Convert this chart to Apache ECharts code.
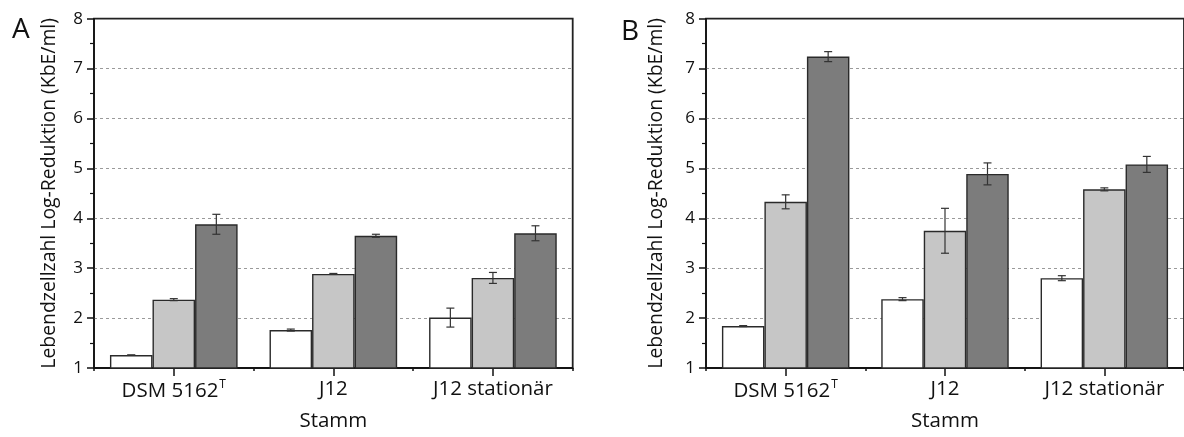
<!DOCTYPE html>
<html>
<head>
<meta charset="utf-8">
<script src="https://cdn.jsdelivr.net/npm/echarts@6/dist/echarts.min.js"></script>
<style>
  html, body { margin: 0; padding: 0; background: #fff; }
  #chart { width: 1184px; height: 437px; }
</style>
</head>
<body>
<div id="chart"></div>
<script>
// Strains on the x axis
const categories = ['DSM 5162', 'J12', 'J12 stationär'];

// Panel A: mean log reductions and standard deviations
const aWhite = [1.26, 1.76, 2.01];
const aLight = [2.37, 2.885, 2.805];
const aDark  = [3.88, 3.65, 3.70];
const aWhiteErr = [0.0, 0.02, 0.19];
const aLightErr = [0.02, 0.01, 0.11];
const aDarkErr  = [0.20, 0.03, 0.15];

// Panel B: mean log reductions and standard deviations
const bWhite = [1.84, 2.38, 2.80];
const bLight = [4.33, 3.75, 4.58];
const bDark  = [7.24, 4.89, 5.08];
const bWhiteErr = [0.01, 0.03, 0.05];
const bLightErr = [0.14, 0.45, 0.03];
const bDarkErr  = [0.10, 0.22, 0.16];

// y axis range and ticks
const yMin = 1, yMax = 8, yStep = 1;

const FONT = '"Open Sans", "Noto Sans", sans-serif';
const fills = ['#ffffff', '#c6c6c6', '#7c7c7c'];
const GAP = 0.2; // category gap fraction

const chart = echarts.init(document.getElementById('chart'), null, { renderer: 'canvas' });

function xAxesFor(gridIndex) {
  return [
    {
      type: 'category', gridIndex, data: categories, position: 'bottom',
      axisLine: { show: true, lineStyle: { color: '#111', width: 1.5 } },
      axisTick: { show: true, alignWithLabel: true, length: 8, lineStyle: { color: '#111', width: 1.5 } },
      axisLabel: {
        interval: 0, margin: 11, color: '#111', fontFamily: FONT, fontSize: 20.5,
        formatter: (v) => v === 'DSM 5162' ? '{a|DSM 5162}{s|T}' : '{a|' + v + '}',
        rich: {
          a: { fontFamily: FONT, fontSize: 20.5, color: '#111' },
          s: { fontFamily: FONT, fontSize: 12, color: '#111', verticalAlign: 'top', padding: [0, 0, 13, 1] }
        }
      },
      splitLine: { show: false },
      name: 'Stamm', nameLocation: 'middle', nameGap: 43,
      nameTextStyle: { fontFamily: FONT, fontSize: 20.5, color: '#111' }
    },
    {
      // short ticks on category boundaries
      type: 'category', gridIndex, data: categories, position: 'bottom',
      axisLine: { show: false },
      axisTick: { show: true, interval: 0, length: 3, lineStyle: { color: '#111', width: 1.5 } },
      axisLabel: { show: false }, splitLine: { show: false }
    }
  ];
}

function yAxisFor(gridIndex, nameGap) {
  return {
    type: 'value', gridIndex, min: yMin, max: yMax, interval: yStep,
    axisLine: { show: true, lineStyle: { color: '#111', width: 1.5 } },
    axisTick: { show: true, length: 7, lineStyle: { color: '#111', width: 1.5 } },
    minorTick: { show: true, splitNumber: 2, length: 4, lineStyle: { color: '#111', width: 1.2 } },
    axisLabel: { margin: 11, color: '#111', fontFamily: FONT, fontSize: 17 },
    splitLine: { show: true, showMinLine: false, showMaxLine: false, lineStyle: { color: '#9a9a9a', type: [3, 3], width: 1 } },
    name: 'Lebendzellzahl Log-Reduktion (KbE/ml)', nameLocation: 'middle', nameGap,
    nameTextStyle: { fontFamily: FONT, fontSize: 19.4, color: '#111' }
  };
}

function barSeries(xi, yi, values, k) {
  return {
    type: 'bar', xAxisIndex: xi, yAxisIndex: yi, data: values,
    barGap: '0%', barCategoryGap: (GAP * 100) + '%',
    itemStyle: { color: fills[k], borderColor: '#2a2a2a', borderWidth: 1.4 },
    silent: true, z: 2
  };
}

function errSeries(xi, yi, means, errs, k) {
  return {
    type: 'custom', xAxisIndex: xi, yAxisIndex: yi, z: 5, silent: true,
    data: means.map((m, i) => [i, m, errs[i]]),
    encode: { x: 0, y: 1 },
    renderItem: (params, api) => {
      const ci = api.value(0), m = api.value(1), e = api.value(2);
      const catW = api.size([1, 0])[0];
      const bw = catW * (1 - GAP) / 3;
      const off = (k - 1) * bw;
      const top = api.coord([ci, m + e]);
      const bot = api.coord([ci, m - e]);
      const cx = top[0] + off;
      const cap = 4;
      const st = { stroke: '#333', lineWidth: 1.2 };
      return {
        type: 'group',
        children: [
          { type: 'line', shape: { x1: cx, y1: top[1], x2: cx, y2: bot[1] }, style: st },
          { type: 'line', shape: { x1: cx - cap, y1: top[1], x2: cx + cap, y2: top[1] }, style: st },
          { type: 'line', shape: { x1: cx - cap, y1: bot[1], x2: cx + cap, y2: bot[1] }, style: st }
        ]
      };
    }
  };
}

const gridTop = 18.7, gridH = 353;
const option = {
  animation: false,
  backgroundColor: '#ffffff',
  title: [
    { text: 'A', left: 7, top: 11, textStyle: { fontFamily: FONT, fontSize: 28, fontWeight: 'normal', color: '#111' } },
    { text: 'B', left: 616, top: 13, textStyle: { fontFamily: FONT, fontSize: 28, fontWeight: 'normal', color: '#111' } }
  ],
  grid: [
    { left: 94, top: gridTop, width: 478.7, height: gridH, show: true, borderColor: '#222', borderWidth: 1.8, backgroundColor: 'transparent', containLabel: false },
    { left: 706, top: gridTop, width: 479, height: gridH, show: true, borderColor: '#222', borderWidth: 1.8, backgroundColor: 'transparent', containLabel: false }
  ],
  xAxis: [...xAxesFor(0), ...xAxesFor(1)],
  yAxis: [yAxisFor(0, 35), yAxisFor(1, 40)],
  series: [
    barSeries(0, 0, aWhite, 0), barSeries(0, 0, aLight, 1), barSeries(0, 0, aDark, 2),
    errSeries(0, 0, aWhite, aWhiteErr, 0), errSeries(0, 0, aLight, aLightErr, 1), errSeries(0, 0, aDark, aDarkErr, 2),
    barSeries(2, 1, bWhite, 0), barSeries(2, 1, bLight, 1), barSeries(2, 1, bDark, 2),
    errSeries(2, 1, bWhite, bWhiteErr, 0), errSeries(2, 1, bLight, bLightErr, 1), errSeries(2, 1, bDark, bDarkErr, 2)
  ]
};
chart.setOption(option);
</script>
</body>
</html>
